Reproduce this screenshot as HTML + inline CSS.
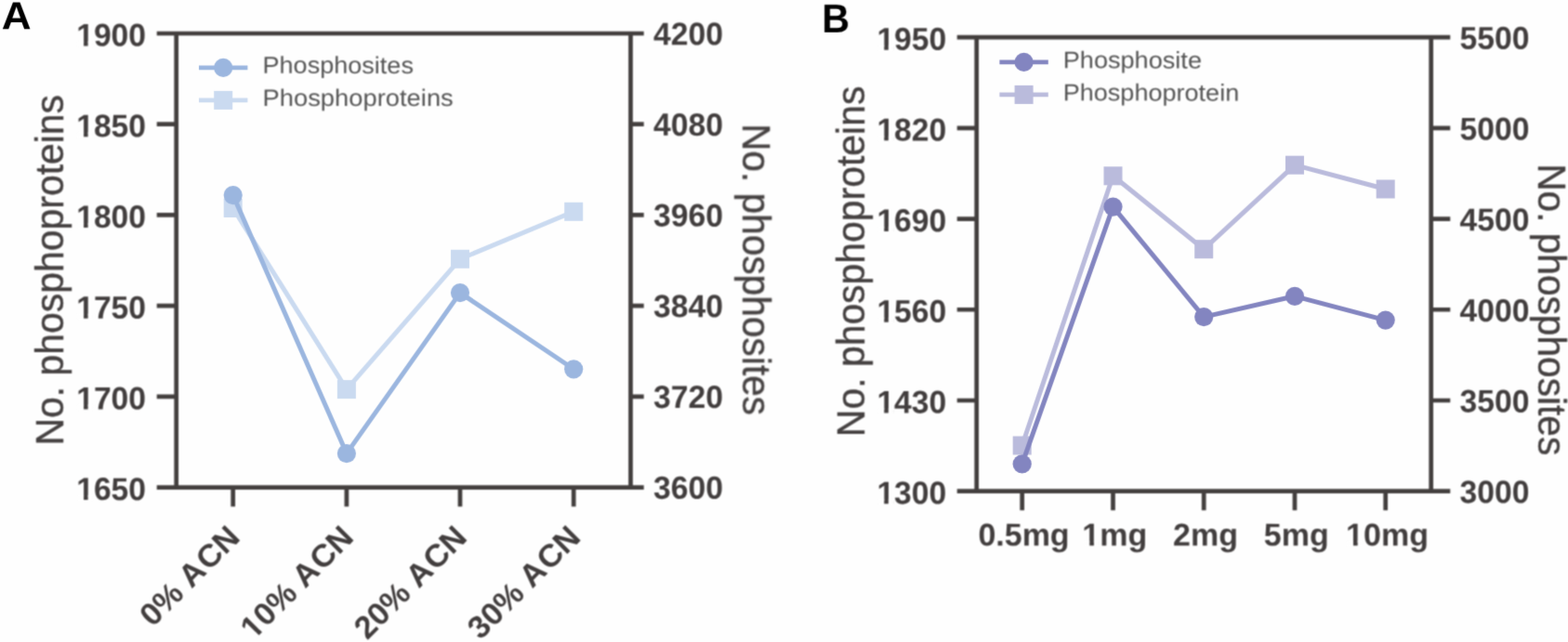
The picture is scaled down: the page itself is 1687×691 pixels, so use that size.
<!DOCTYPE html>
<html lang="en"><head><meta charset="utf-8"><title>Figure</title>
<style>
html,body{margin:0;padding:0;background:#fefefe;}
body{width:1687px;height:691px;overflow:hidden;}
svg{display:block;}
text{font-family:"Liberation Sans",Arial,Helvetica,sans-serif;font-kerning:none;}
.tk text{font-size:34px;font-weight:bold;fill:#423e3e;text-rendering:geometricPrecision;}
.lg{font-size:25px;fill:#555;text-rendering:geometricPrecision;}
.yl{font-size:41px;fill:#454141;stroke:#454141;stroke-width:0.4px;}
.pl{font-size:40px;font-weight:bold;fill:#000;text-rendering:geometricPrecision;}
</style></head><body>
<svg width="1687" height="691" viewBox="0 0 1687 691">
<rect width="1687" height="691" fill="#fefefe"/>
<g filter="url(#d)">
<text class="pl" transform="translate(1.70,31.25) rotate(0.05) scale(1.104,1.042)">A</text>
<text class="pl" transform="translate(884.30,34.70) rotate(0.05) scale(1.03,1.084)">B</text>
</g>
<g filter="url(#d)">
<polyline points="250.7,224.0 372.9,419.1 495.0,278.8 617.2,227.8" fill="none" stroke="#cadaf0" stroke-width="5.0" stroke-linejoin="round"/>
<rect x="240.7" y="214.0" width="20" height="20" fill="#cadaf0"/>
<rect x="362.9" y="409.1" width="20" height="20" fill="#cadaf0"/>
<rect x="485.0" y="268.8" width="20" height="20" fill="#cadaf0"/>
<rect x="607.2" y="217.8" width="20" height="20" fill="#cadaf0"/>
<polyline points="250.7,210.1 372.9,488.1 495.0,315.1 617.2,397.3" fill="none" stroke="#9bb6df" stroke-width="5.0" stroke-linejoin="round"/>
<circle cx="250.7" cy="210.1" r="10.1" fill="#9bb6df"/>
<circle cx="372.9" cy="488.1" r="10.1" fill="#9bb6df"/>
<circle cx="495.0" cy="315.1" r="10.1" fill="#9bb6df"/>
<circle cx="617.2" cy="397.3" r="10.1" fill="#9bb6df"/>
<path d="M214.0,72.8H266.4" stroke="#9bb6df" stroke-width="4.7"/><circle cx="240.2" cy="72.8" r="10.1" fill="#9bb6df"/>
<path d="M214.0,107.9H266.4" stroke="#cadaf0" stroke-width="4.7"/><rect x="230.2" y="97.9" width="20" height="20" fill="#cadaf0"/>
</g><g filter="url(#b)">
<path d="M168.7,36.0H692.7M168.7,524.6H692.7M189.7,36.0V524.6M678.5,36.0V524.6M168.7,133.72H189.7M678.5,133.72H692.7M168.7,231.44H189.7M678.5,231.44H692.7M168.7,329.16H189.7M678.5,329.16H692.7M168.7,426.88H189.7M678.5,426.88H692.7M250.7,524.6V545.2M372.9,524.6V545.2M495.0,524.6V545.2M617.2,524.6V545.2" stroke="#433f3e" stroke-width="4.7" fill="none"/>
<g class="tk">
<g transform="translate(157.00,49.57) rotate(0.05) scale(0.989,1.008)"><text text-anchor="end">1900</text><rect x="-74.64" y="-4.98" width="6.94" height="5.98" fill="#fefefe"/><rect x="-63.04" y="-4.98" width="5.99" height="5.98" fill="#fefefe"/></g>
<g transform="translate(157.00,147.29) rotate(0.05) scale(0.989,1.008)"><text text-anchor="end">1850</text><rect x="-74.64" y="-4.98" width="6.94" height="5.98" fill="#fefefe"/><rect x="-63.04" y="-4.98" width="5.99" height="5.98" fill="#fefefe"/></g>
<g transform="translate(157.00,245.01) rotate(0.05) scale(0.989,1.008)"><text text-anchor="end">1800</text><rect x="-74.64" y="-4.98" width="6.94" height="5.98" fill="#fefefe"/><rect x="-63.04" y="-4.98" width="5.99" height="5.98" fill="#fefefe"/></g>
<g transform="translate(157.00,342.73) rotate(0.05) scale(0.989,1.008)"><text text-anchor="end">1750</text><rect x="-74.64" y="-4.98" width="6.94" height="5.98" fill="#fefefe"/><rect x="-63.04" y="-4.98" width="5.99" height="5.98" fill="#fefefe"/></g>
<g transform="translate(157.00,440.45) rotate(0.05) scale(0.989,1.008)"><text text-anchor="end">1700</text><rect x="-74.64" y="-4.98" width="6.94" height="5.98" fill="#fefefe"/><rect x="-63.04" y="-4.98" width="5.99" height="5.98" fill="#fefefe"/></g>
<g transform="translate(157.00,538.17) rotate(0.05) scale(0.989,1.008)"><text text-anchor="end">1650</text><rect x="-74.64" y="-4.98" width="6.94" height="5.98" fill="#fefefe"/><rect x="-63.04" y="-4.98" width="5.99" height="5.98" fill="#fefefe"/></g>
<text transform="translate(703.00,48.15) rotate(0.05) scale(0.99,1.008)">4200</text>
<text transform="translate(703.00,145.87) rotate(0.05) scale(0.99,1.008)">4080</text>
<text transform="translate(703.00,243.59) rotate(0.05) scale(0.99,1.008)">3960</text>
<text transform="translate(703.00,341.31) rotate(0.05) scale(0.99,1.008)">3840</text>
<text transform="translate(703.00,439.03) rotate(0.05) scale(0.99,1.008)">3720</text>
<text transform="translate(703.00,536.75) rotate(0.05) scale(0.99,1.008)">3600</text>
<text transform="translate(259.90,580.10) rotate(-45) scale(1.012,1.0)" text-anchor="end" dx="0 0 0 0 1.5 0">0% ACN</text>
<g transform="translate(382.10,580.10) rotate(-45) scale(1.012,1.0)"><text text-anchor="end" dx="0 0 0 0 0 1.5 0">10% ACN</text><rect x="-151.66" y="-4.98" width="6.94" height="5.98" fill="#fefefe"/><rect x="-140.06" y="-4.98" width="5.99" height="5.98" fill="#fefefe"/></g>
<text transform="translate(504.20,580.10) rotate(-45) scale(1.012,1.0)" text-anchor="end" dx="0 0 0 0 0 1.5 0">20% ACN</text>
<text transform="translate(626.40,580.10) rotate(-45) scale(1.012,1.0)" text-anchor="end" dx="0 0 0 0 0 1.5 0">30% ACN</text>
</g>
<text class="lg" transform="translate(282.50,78.80) rotate(0.05) scale(1.082,1.02)">Phosphosites</text>
<text class="lg" transform="translate(282.50,113.90) rotate(0.05) scale(1.094,1.02)">Phosphoproteins</text>
<text class="yl" transform="translate(68.30,290.70) rotate(-90) scale(0.998,1.03)" text-anchor="middle">No. phosphoproteins</text>
<text class="yl" transform="translate(799.00,290.00) rotate(90) scale(0.9916,1.03)" text-anchor="middle">No. phosphosites</text>
</g>
<g filter="url(#d)">
<polyline points="1099.7,479.5 1197.5,189.3 1295.2,268.2 1393.0,177.7 1490.7,203.5" fill="none" stroke="#babbdc" stroke-width="5.0" stroke-linejoin="round"/>
<rect x="1089.7" y="469.5" width="20" height="20" fill="#babbdc"/>
<rect x="1187.5" y="179.3" width="20" height="20" fill="#babbdc"/>
<rect x="1285.2" y="258.2" width="20" height="20" fill="#babbdc"/>
<rect x="1383.0" y="167.7" width="20" height="20" fill="#babbdc"/>
<rect x="1480.7" y="193.5" width="20" height="20" fill="#babbdc"/>
<polyline points="1099.7,499.4 1197.5,222.6 1295.2,341.1 1393.0,318.8 1490.7,344.6" fill="none" stroke="#8385c0" stroke-width="5.0" stroke-linejoin="round"/>
<circle cx="1099.7" cy="499.4" r="10.1" fill="#8385c0"/>
<circle cx="1197.5" cy="222.6" r="10.1" fill="#8385c0"/>
<circle cx="1295.2" cy="341.1" r="10.1" fill="#8385c0"/>
<circle cx="1393.0" cy="318.8" r="10.1" fill="#8385c0"/>
<circle cx="1490.7" cy="344.6" r="10.1" fill="#8385c0"/>
<path d="M1075.4,66.9H1127.8" stroke="#8385c0" stroke-width="4.7"/><circle cx="1101.6" cy="66.9" r="10.1" fill="#8385c0"/>
<path d="M1075.4,101.9H1127.8" stroke="#babbdc" stroke-width="4.7"/><rect x="1091.6" y="91.9" width="20" height="20" fill="#babbdc"/>
</g><g filter="url(#b)">
<path d="M1029.7,40.1H1560.3M1029.7,528.7H1560.3M1050.7,40.1V528.7M1539.7,40.1V528.7M1029.7,137.82H1050.7M1539.7,137.82H1560.3M1029.7,235.54H1050.7M1539.7,235.54H1560.3M1029.7,333.26H1050.7M1539.7,333.26H1560.3M1029.7,430.98H1050.7M1539.7,430.98H1560.3M1099.7,528.7V549.3M1197.5,528.7V549.3M1295.2,528.7V549.3M1393.0,528.7V549.3M1490.7,528.7V549.3" stroke="#433f3e" stroke-width="4.7" fill="none"/>
<g class="tk">
<g transform="translate(1018.20,53.72) rotate(0.05) scale(0.989,1.008)"><text text-anchor="end">1950</text><rect x="-74.64" y="-4.98" width="6.94" height="5.98" fill="#fefefe"/><rect x="-63.04" y="-4.98" width="5.99" height="5.98" fill="#fefefe"/></g>
<g transform="translate(1018.20,151.44) rotate(0.05) scale(0.989,1.008)"><text text-anchor="end">1820</text><rect x="-74.64" y="-4.98" width="6.94" height="5.98" fill="#fefefe"/><rect x="-63.04" y="-4.98" width="5.99" height="5.98" fill="#fefefe"/></g>
<g transform="translate(1018.20,249.16) rotate(0.05) scale(0.989,1.008)"><text text-anchor="end">1690</text><rect x="-74.64" y="-4.98" width="6.94" height="5.98" fill="#fefefe"/><rect x="-63.04" y="-4.98" width="5.99" height="5.98" fill="#fefefe"/></g>
<g transform="translate(1018.20,346.88) rotate(0.05) scale(0.989,1.008)"><text text-anchor="end">1560</text><rect x="-74.64" y="-4.98" width="6.94" height="5.98" fill="#fefefe"/><rect x="-63.04" y="-4.98" width="5.99" height="5.98" fill="#fefefe"/></g>
<g transform="translate(1018.20,444.60) rotate(0.05) scale(0.989,1.008)"><text text-anchor="end">1430</text><rect x="-74.64" y="-4.98" width="6.94" height="5.98" fill="#fefefe"/><rect x="-63.04" y="-4.98" width="5.99" height="5.98" fill="#fefefe"/></g>
<g transform="translate(1018.20,542.32) rotate(0.05) scale(0.989,1.008)"><text text-anchor="end">1300</text><rect x="-74.64" y="-4.98" width="6.94" height="5.98" fill="#fefefe"/><rect x="-63.04" y="-4.98" width="5.99" height="5.98" fill="#fefefe"/></g>
<text transform="translate(1570.50,52.70) rotate(0.05) scale(0.99,1.008)">5500</text>
<text transform="translate(1570.50,150.42) rotate(0.05) scale(0.99,1.008)">5000</text>
<text transform="translate(1570.50,248.14) rotate(0.05) scale(0.99,1.008)">4500</text>
<text transform="translate(1570.50,345.86) rotate(0.05) scale(0.99,1.008)">4000</text>
<text transform="translate(1570.50,443.58) rotate(0.05) scale(0.99,1.008)">3500</text>
<text transform="translate(1570.50,541.30) rotate(0.05) scale(0.99,1.008)">3000</text>
<text transform="translate(1101.50,587.30) rotate(0.05)" text-anchor="middle">0.5mg</text>
<g transform="translate(1199.30,587.30) rotate(0.05)"><text text-anchor="middle">1mg</text><rect x="-33.96" y="-4.98" width="6.94" height="5.98" fill="#fefefe"/><rect x="-22.35" y="-4.98" width="5.99" height="5.98" fill="#fefefe"/></g>
<text transform="translate(1297.00,587.30) rotate(0.05)" text-anchor="middle">2mg</text>
<text transform="translate(1394.80,587.30) rotate(0.05)" text-anchor="middle">5mg</text>
<g transform="translate(1492.50,587.30) rotate(0.05)"><text text-anchor="middle">10mg</text><rect x="-43.41" y="-4.98" width="6.94" height="5.98" fill="#fefefe"/><rect x="-31.81" y="-4.98" width="5.99" height="5.98" fill="#fefefe"/></g>
</g>
<text class="lg" transform="translate(1143.70,73.30) rotate(0.05) scale(1.085,1.02)">Phosphosite</text>
<text class="lg" transform="translate(1143.70,108.30) rotate(0.05) scale(1.082,1.02)">Phosphoprotein</text>
<text class="yl" transform="translate(929.90,281.40) rotate(-90) scale(0.998,1.03)" text-anchor="middle">No. phosphoproteins</text>
<text class="yl" transform="translate(1654.60,333.20) rotate(90) scale(0.9916,1.03)" text-anchor="middle">No. phosphosites</text>
</g>
<defs><filter id="b" x="0" y="0" width="1687" height="691" filterUnits="userSpaceOnUse" color-interpolation-filters="sRGB"><feConvolveMatrix order="3" kernelMatrix="1 2 1 2 4 2 1 2 1" divisor="16" edgeMode="duplicate" preserveAlpha="false"/></filter>
<filter id="d" x="0" y="0" width="1687" height="691" filterUnits="userSpaceOnUse" color-interpolation-filters="sRGB"><feConvolveMatrix order="3" kernelMatrix="0 1 0 1 8 1 0 1 0" divisor="12" edgeMode="duplicate" preserveAlpha="false"/></filter></defs>
</svg>
</body></html>
